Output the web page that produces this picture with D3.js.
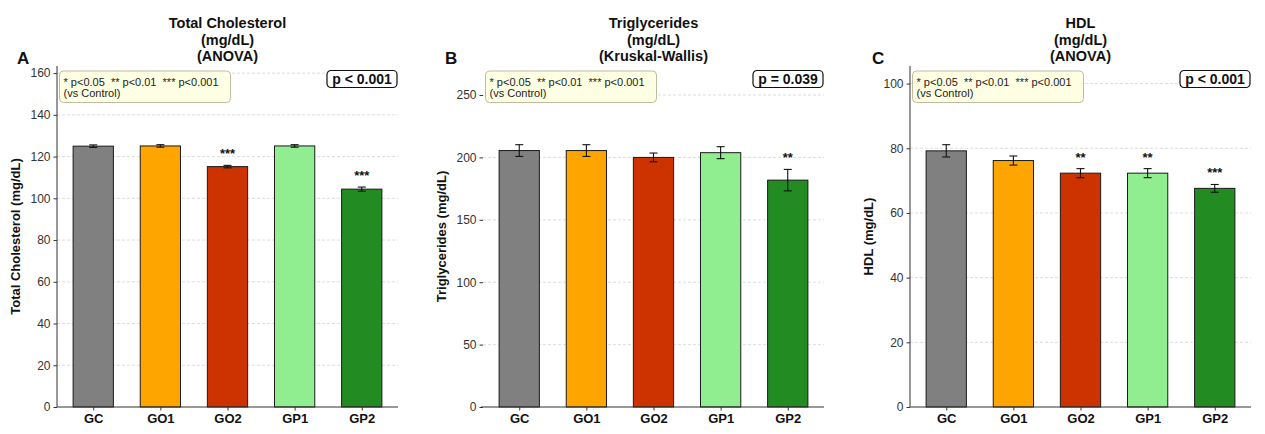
<!DOCTYPE html>
<html>
<head>
<meta charset="utf-8">
<script src="https://cdn.jsdelivr.net/npm/d3@7"></script>
<style>
  body { margin: 0; background: #fff; }
  svg { font-family: "Liberation Sans", Arial, sans-serif; }
</style>
</head>
<body>
<div id="chart"></div>
<script>
// data
const groups = ["GC", "GO1", "GO2", "GP1", "GP2"];
const groupColors = ["#808080", "#FFA500", "#CC3300", "#90EE90", "#228B22"];

const cholMean = [125.0, 125.1, 115.2, 125.1, 104.4];
const cholSem = [0.6, 0.6, 0.6, 0.6, 1.0];
const cholStars = ["", "", "***", "", "***"];

const trigMean = [205.5, 205.5, 200.0, 203.8, 181.8];
const trigSem = [4.7, 4.7, 3.5, 4.8, 8.6];
const trigStars = ["", "", "", "", "**"];

const hdlMean = [79.2, 76.2, 72.3, 72.3, 67.6];
const hdlSem = [1.9, 1.4, 1.4, 1.4, 1.2];
const hdlStars = ["", "", "**", "**", "***"];

const panelLetters = ["A", "B", "C"];
const panelTitles = [
    ["Total Cholesterol", "(mg/dL)", "(ANOVA)"],
    ["Triglycerides", "(mg/dL)", "(Kruskal-Wallis)"],
    ["HDL", "(mg/dL)", "(ANOVA)"]
];
const yLabels = ["Total Cholesterol (mg/dL)", "Triglycerides (mg/dL)", "HDL (mg/dL)"];
const pTexts = ["p < 0.001", "p = 0.039", "p < 0.001"];
const yTicks = [d3.range(0, 161, 20), d3.range(0, 251, 50), d3.range(0, 101, 20)];
const legendLines = ["* p<0.05  ** p<0.01  *** p<0.001", "(vs Control)"];

// layout
const W = 1265, H = 434;
const plotTop = 66, plotBottom = 407, plotWidth = 341;
const panelLeft = [57, 483, 910];

const svg = d3.select("#chart").append("svg")
    .attr("width", W)
    .attr("height", H);

function drawPanel(i, means, sems, stars, showLeftSpine) {
    const left = panelLeft[i];
    const g = svg.append("g").attr("transform", `translate(${left},0)`);

    const yMax = d3.max(means.map((m, k) => m + sems[k])) * 1.3;
    const y = d3.scaleLinear().domain([0, yMax]).range([plotBottom, plotTop]);
    const x = d3.scaleLinear().domain([-0.54, groups.length - 1 + 0.54]).range([0, plotWidth]);
    const barW = x(0.6) - x(0);

    // grid
    g.selectAll("line.grid")
        .data(yTicks[i].filter(t => t > 0))
        .enter().append("line")
        .attr("class", "grid")
        .attr("x1", 0).attr("x2", plotWidth)
        .attr("y1", d => y(d)).attr("y2", d => y(d))
        .attr("stroke", "#d4d4d4")
        .attr("stroke-width", 0.8)
        .attr("stroke-dasharray", "3,2");

    // bars
    g.selectAll("rect.bar")
        .data(means)
        .enter().append("rect")
        .attr("class", "bar")
        .attr("x", (d, k) => x(k) - barW / 2)
        .attr("y", d => y(d))
        .attr("width", barW)
        .attr("height", d => plotBottom - y(d))
        .attr("fill", (d, k) => groupColors[k])
        .attr("stroke", "#1a1a1a")
        .attr("stroke-width", 1);

    // error bars
    const err = g.selectAll("g.err")
        .data(means)
        .enter().append("g")
        .attr("class", "err")
        .attr("stroke", "#111")
        .attr("stroke-width", 1.1);
    err.append("line")
        .attr("x1", (d, k) => x(k)).attr("x2", (d, k) => x(k))
        .attr("y1", (d, k) => y(d - sems[k])).attr("y2", (d, k) => y(d + sems[k]));
    err.append("line")
        .attr("x1", (d, k) => x(k) - 4).attr("x2", (d, k) => x(k) + 4)
        .attr("y1", (d, k) => y(d + sems[k])).attr("y2", (d, k) => y(d + sems[k]));
    err.append("line")
        .attr("x1", (d, k) => x(k) - 4).attr("x2", (d, k) => x(k) + 4)
        .attr("y1", (d, k) => y(d - sems[k])).attr("y2", (d, k) => y(d - sems[k]));

    // significance stars
    g.selectAll("text.star")
        .data(means)
        .enter().append("text")
        .attr("class", "star")
        .attr("x", (d, k) => x(k))
        .attr("y", (d, k) => y(d + sems[k]) - 7)
        .attr("text-anchor", "middle")
        .attr("font-size", "13px")
        .attr("font-weight", "bold")
        .attr("fill", "#111")
        .text((d, k) => stars[k]);

    // axes
    const yAxis = d3.axisLeft(y).tickValues(yTicks[i]).tickSize(3.5).tickPadding(3);
    const ya = g.append("g").call(yAxis);
    ya.select(".domain").attr("stroke", "#333").attr("stroke-width", 1)
        .attr("d", `M0,${plotTop}V${plotBottom}`)
        .style("display", showLeftSpine ? null : "none");
    ya.selectAll(".tick line").attr("stroke", "#333");
    ya.selectAll(".tick text").attr("font-size", "12px").attr("fill", "#333")
        .attr("font-family", "Liberation Sans, Arial, sans-serif");

    const xAxis = d3.axisBottom(x).tickValues(d3.range(groups.length))
        .tickFormat(k => groups[k]).tickSize(3.5).tickPadding(3);
    const xa = g.append("g").attr("transform", `translate(0,${plotBottom})`).call(xAxis);
    xa.select(".domain").attr("stroke", "#333").attr("stroke-width", 1)
        .attr("d", `M${showLeftSpine ? 0 : -2},0H${plotWidth}`);
    xa.selectAll(".tick line").attr("stroke", "#333");
    xa.selectAll(".tick text").attr("font-size", "13px").attr("font-weight", "bold")
        .attr("fill", "#111").attr("font-family", "Liberation Sans, Arial, sans-serif");

    // y label
    g.append("text")
        .attr("transform", `translate(${-37},${(plotTop + plotBottom) / 2}) rotate(-90)`)
        .attr("text-anchor", "middle")
        .attr("font-size", "13px")
        .attr("font-weight", "bold")
        .attr("fill", "#111")
        .text(yLabels[i]);

    // title
    g.append("text")
        .attr("text-anchor", "middle")
        .attr("font-size", "14.5px")
        .attr("font-weight", "bold")
        .attr("fill", "#111")
        .selectAll("tspan")
        .data(panelTitles[i])
        .enter().append("tspan")
        .attr("x", plotWidth / 2)
        .attr("y", (d, k) => 28 + k * 16.5)
        .text(d => d);

    // panel letter
    g.append("text")
        .attr("x", i === 0 ? -40 : -38)
        .attr("y", 64)
        .attr("font-size", "17px")
        .attr("font-weight", "bold")
        .attr("fill", "#111")
        .text(panelLetters[i]);

    // legend box
    const leg = g.append("g").attr("transform", "translate(2.5,71)");
    leg.append("rect")
        .attr("width", 171).attr("height", 31.5)
        .attr("rx", 4)
        .attr("fill", "#ffffe0")
        .attr("fill-opacity", 0.9)
        .attr("stroke", "#b9b39a")
        .attr("stroke-width", 0.9);
    leg.selectAll("text")
        .data(legendLines)
        .enter().append("text")
        .attr("x", 4)
        .attr("y", (d, k) => 14.5 + k * 11)
        .attr("font-size", "11px")
        .attr("fill", "#222")
        .attr("xml:space", "preserve")
        .text(d => d);

    // p value box
    const pb = g.append("g").attr("transform", `translate(${plotWidth - 71},70.5)`);
    pb.append("rect")
        .attr("width", 70).attr("height", 17)
        .attr("rx", 4)
        .attr("fill", "#fff")
        .attr("stroke", "#111")
        .attr("stroke-width", 1.2);
    pb.append("text")
        .attr("x", 35).attr("y", 13.5)
        .attr("text-anchor", "middle")
        .attr("font-size", "14px")
        .attr("font-weight", "bold")
        .attr("fill", "#111")
        .text(pTexts[i]);
}

drawPanel(0, cholMean, cholSem, cholStars, true);
drawPanel(1, trigMean, trigSem, trigStars, false);
drawPanel(2, hdlMean, hdlSem, hdlStars, true);
</script>
</body>
</html>
